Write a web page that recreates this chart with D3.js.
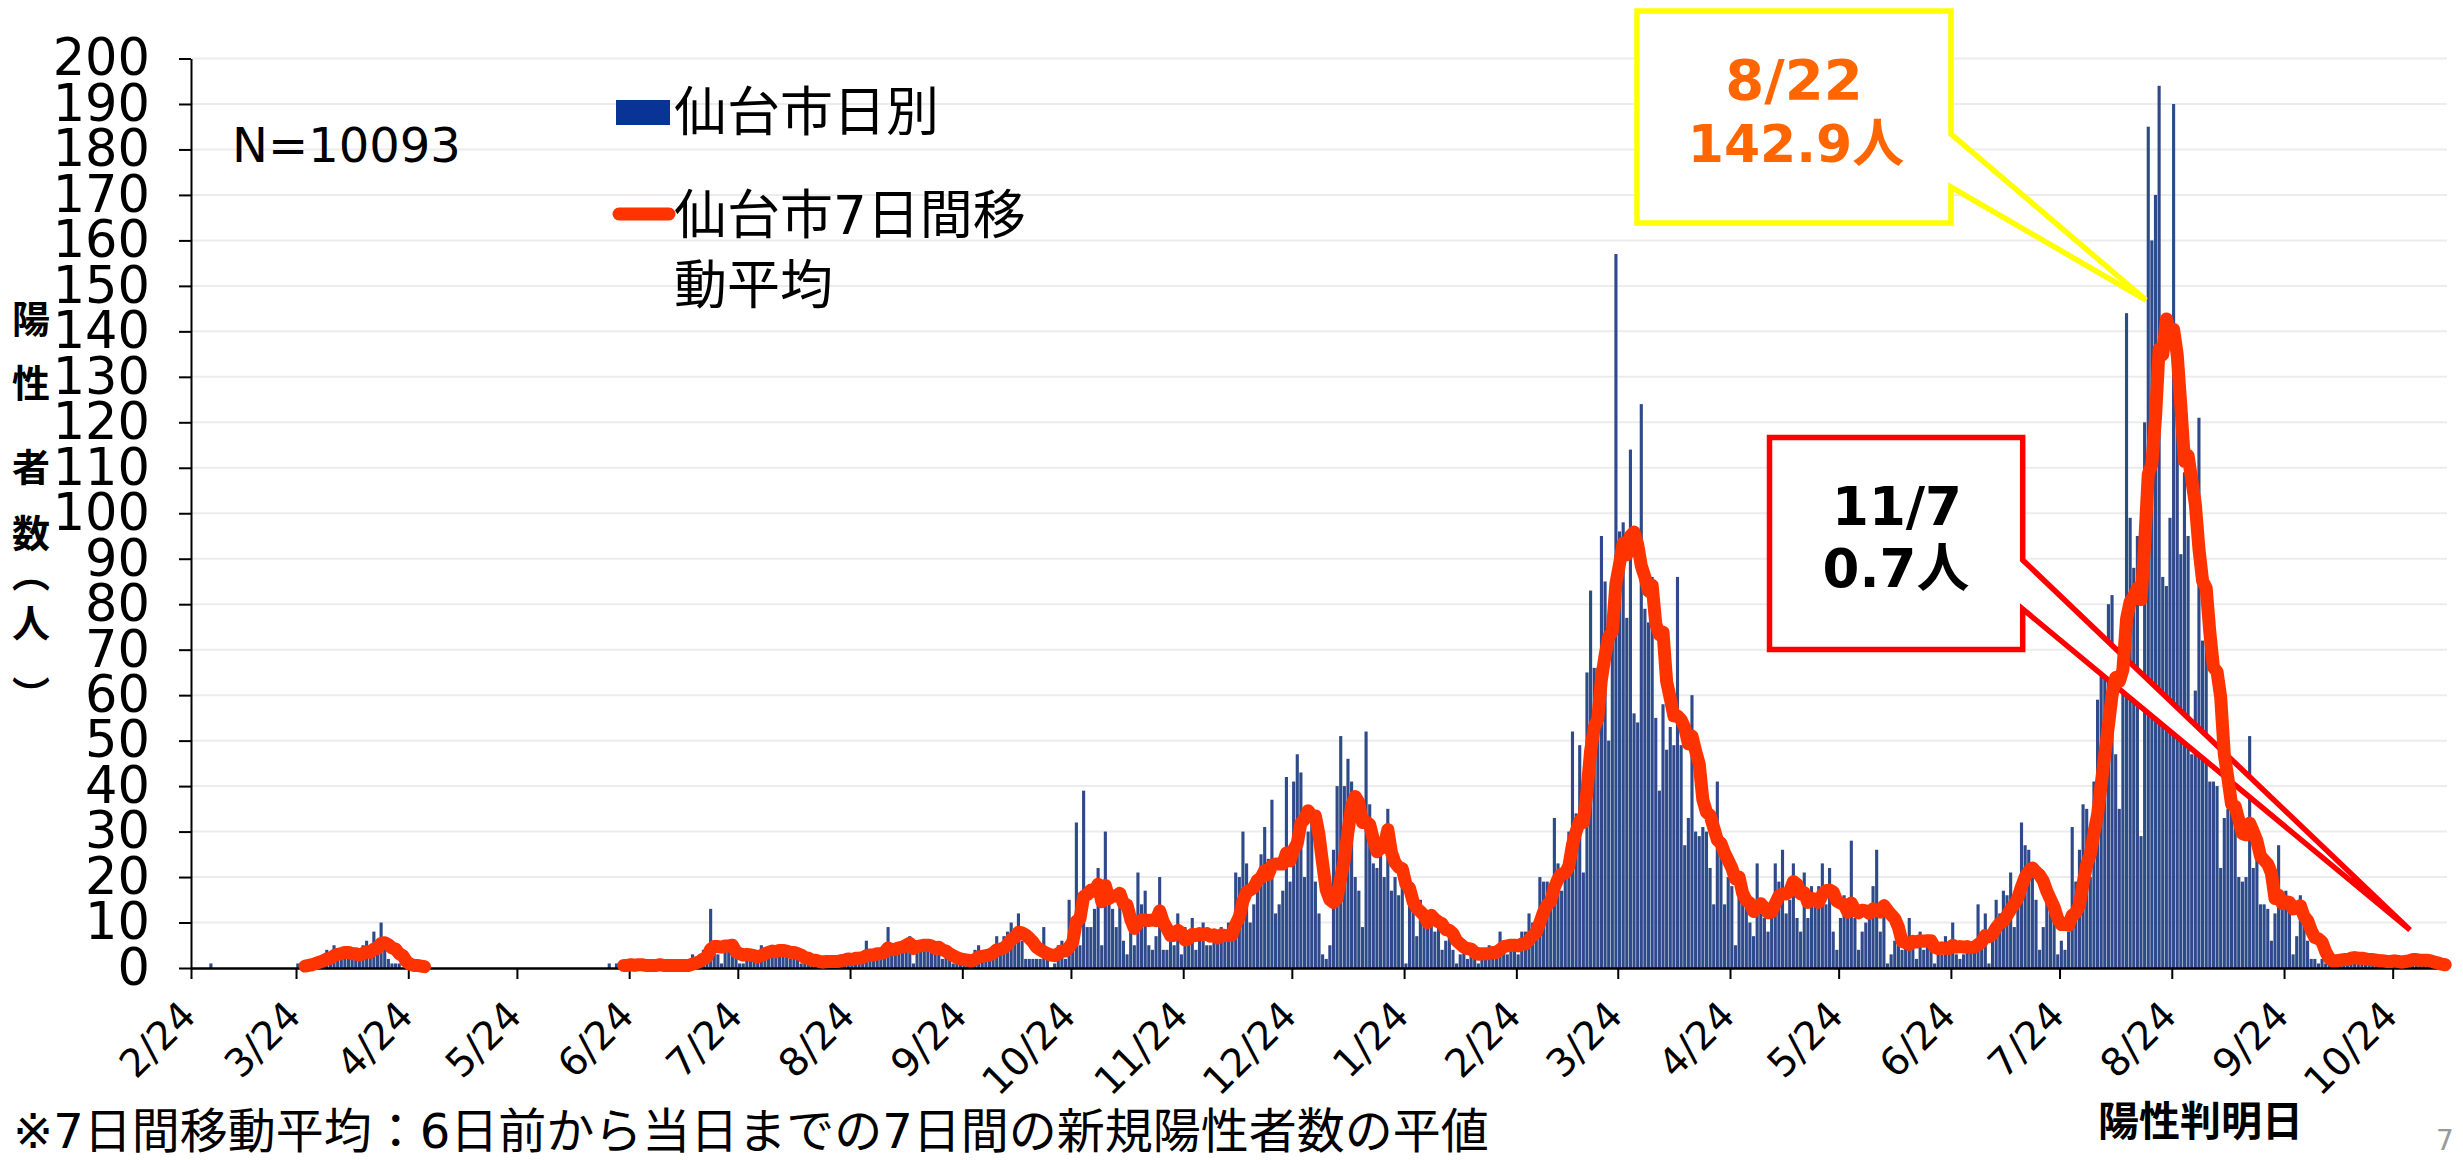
<!DOCTYPE html>
<html>
<head>
<meta charset="utf-8">
<script src="https://cdn.jsdelivr.net/npm/d3@7"></script>
<style>
  body { margin: 0; background: #fff; }
  svg { display: block; }
  text { font-family: "DejaVu Sans", "Noto Sans CJK JP", sans-serif; }
</style>
</head>
<body>
<svg id="chart"></svg>
<script>
// 仙台市 日別陽性者数 (2020/2/24 から 2021/11/7 まで、月ごと)
var startDate = "2020-02-24";
var c2002 = [0,0,0,0,0,1];
var c2003 = [0,0,0,0,0,0,0,0,0,0,0,0,0,0,0,0,0,0,0,0,0,0,0,1,1,1,1,1,2,2,3];
var c2004 = [4,2,5,3,3,4,3,2,2,3,5,6,3,8,3,10,4,2,1,1,1,0,1,0,0,1,0,0,1,0];
var c2005 = [0,0,0,0,0,0,0,0,0,0,0,0,0,0,0,0,0,0,0,0,0,0,0,0,0,0,0,0,0,0,0];
var c2006 = [0,0,0,0,0,0,0,0,0,0,0,0,0,0,0,0,0,1,0,1,1,1,0,1,0,1,1,0,1,0];
var c2007 = [1,1,0,1,0,1,0,1,1,0,3,2,3,4,4,13,4,3,1,5,4,5,3,1,1,2,4,3,3,5,4];
var c2008 = [3,4,3,5,3,4,2,3,2,1,1,2,1,2,1,1,2,1,2,1,3,2,3,1,3,2,2,6,3,3,3];
var c2009 = [3,4,9,3,4,5,4,6,7,1,6,5,6,4,5,3,3,2,3,2,1,2,1,2,1,2,4,5,3,2];
var c2010 = [3,4,7,5,7,8,10,6,12,6,2,2,2,2,2,9,3,0,1,5,6,2,15,11,32,5,39,9,9,13,22];
var c2011 = [5,30,19,13,9,17,6,3,8,5,21,14,17,5,4,7,20,4,4,6,5,12,3,9,6,11,4,8,10,5];
var c2012 = [5,8,6,9,7,10,6,21,20,30,23,10,14,17,25,31,24,37,12,14,17,42,19,41,47,43,20,30,34,19,12];
var c2101 = [3,2,5,26,40,51,40,46,41,20,17,9,52,36,23,22,25,20,35,17,20,16,20,1,14,14,7,15,10,9,12];
var c2102 = [8,10,4,6,9,4,1,3,5,2,5,4,1,2,3,5,4,5,8,6,3,4,5,3,8,8,12,10];
var c2103 = [9,20,19,19,14,33,23,17,21,30,52,34,49,21,65,83,66,66,95,85,50,73,157,96,98,77,114,56,54,124,79];
var c2104 = [76,86,55,39,58,48,53,49,86,49,27,33,60,30,29,31,30,22,14,41,25,14,20,18,5,17,16,14,10,7];
var c2105 = [23,12,11,8,15,23,19,26,12,15,23,11,8,21,11,18,14,18,23,14,22,8,4,11,16,11,28,11,4,8,10];
var c2106 = [12,18,26,8,14,1,3,6,5,4,6,11,6,2,8,4,5,6,1,4,3,7,4,10,3,2,3,4,5,5];
var c2107 = [14,7,12,1,8,15,12,17,16,21,9,18,32,27,26,21,15,4,9,16,15,14,3,6,4,8,31,19,26,36,35];
var c2108 = [20,41,59,66,72,80,82,47,35,77,144,99,88,95,29,120,185,160,170,194,86,84,99,190,121,91,109,95,47,61,121];
var c2109 = [72,80,41,41,40,22,33,35,40,38,20,19,20,51,22,26,14,14,13,6,12,27,13,17,13,3,7,16,11,6];
var c2110 = [2,2,1,2,1,1,2,2,3,2,2,3,2,1,2,2,1,2,2,1,1,1,2,2,1,1,2,2,3,2,1];
var c2111 = [1,1,1,0,2,0,0];
var caseMonths = [c2002, c2003, c2004, c2005, c2006, c2007, c2008, c2009, c2010, c2011, c2012,
                  c2101, c2102, c2103, c2104, c2105, c2106, c2107, c2108, c2109, c2110, c2111];

// 7日間移動平均を描く期間
var maSpans = [["2020-03-26", "2020-04-28"], ["2020-06-22", "2021-11-07"]];

// 軸
var tickDates = ["2020-02-24","2020-03-24","2020-04-24","2020-05-24","2020-06-24","2020-07-24",
                 "2020-08-24","2020-09-24","2020-10-24","2020-11-24","2020-12-24","2021-01-24",
                 "2021-02-24","2021-03-24","2021-04-24","2021-05-24","2021-06-24","2021-07-24",
                 "2021-08-24","2021-09-24","2021-10-24"];
var yTicks = [0,10,20,30,40,50,60,70,80,90,100,110,120,130,140,150,160,170,180,190,200];
var yTitle = ["陽", "性", "者", "数", "︵", "人", "︶"];

var parse = d3.utcParse("%Y-%m-%d");
var t0 = parse(startDate);

var daily = [];
caseMonths.forEach(function (m) {
    m.forEach(function (v) {
        daily.push({ date: d3.utcDay.offset(t0, daily.length), value: v });
    });
});

// 6日前から当日までの7日間の平均
daily.forEach(function (d, i) {
    var inSpan = maSpans.some(function (s) { return d.date >= parse(s[0]) && d.date <= parse(s[1]); });
    d.ma = (inSpan && i >= 6) ? d3.mean(daily.slice(i - 6, i + 1), function (e) { return e.value; }) : null;
});

var W = 2463, H = 1160;
var svg = d3.select("#chart").attr("width", W).attr("height", H);
svg.append("rect").attr("width", W).attr("height", H).attr("fill", "#fff");

var x = d3.scaleUtc().domain([t0, d3.utcDay.offset(t0, daily.length)]).range([191, 2447]);
var y = d3.scaleLinear().domain([0, 200]).range([968, 58.5]);
var dayW = x(d3.utcDay.offset(t0, 1)) - x(t0);

// grid
svg.append("g").selectAll("line")
    .data(yTicks.filter(function (v) { return v > 0; }))
  .enter().append("line")
    .attr("x1", 191).attr("x2", 2447)
    .attr("y1", function (v) { return y(v); }).attr("y2", function (v) { return y(v); })
    .attr("stroke", "#ececec").attr("stroke-width", 2);

// bars
svg.append("g").selectAll("rect")
    .data(daily.filter(function (d) { return d.value > 0; }))
  .enter().append("rect")
    .attr("x", function (d) { return x(d.date) + 0.25; })
    .attr("width", dayW - 0.5)
    .attr("y", function (d) { return y(d.value); })
    .attr("height", function (d) { return y(0) - y(d.value); })
    .attr("fill", "#2e4a8a");

// x axis
var xAxis = svg.append("g")
    .attr("transform", "translate(0," + y(0) + ")")
    .call(d3.axisBottom(x).tickValues(tickDates.map(parse)).tickSize(11).tickSizeOuter(0).tickFormat(""));
xAxis.select(".domain").attr("stroke", "#000").attr("stroke-width", 2.5);
xAxis.selectAll(".tick line").attr("stroke", "#000").attr("stroke-width", 2);

var fmt = d3.utcFormat("%-m/%-d");
svg.append("g").selectAll("text")
    .data(tickDates.map(parse))
  .enter().append("text")
    .attr("transform", function (d) { return "translate(" + (x(d) + 7) + ",1018) rotate(-45)"; })
    .attr("text-anchor", "end")
    .attr("font-size", 39)
    .text(function (d) { return fmt(d); });

// y axis
var yAxis = svg.append("g")
    .attr("transform", "translate(191,0)")
    .call(d3.axisLeft(y).tickValues(yTicks).tickSize(12).tickPadding(29).tickSizeOuter(0));
yAxis.attr("font-size", 51);
yAxis.select(".domain").attr("stroke", "#000").attr("stroke-width", 2);
yAxis.selectAll(".tick line").attr("stroke", "#000").attr("stroke-width", 2);
yAxis.selectAll(".tick text").attr("fill", "#000");

// y axis title
var titleY = [319, 383, 467, 533, 573, 623, 695];
svg.append("g").selectAll("text")
    .data(yTitle)
  .enter().append("text")
    .attr("x", 31)
    .attr("y", function (d, i) { return titleY[i]; })
    .attr("dy", "0.36em")
    .attr("text-anchor", "middle")
    .attr("font-size", 38)
    .attr("font-weight", "bold")
    .text(function (d) { return d; });

// callouts
svg.append("path")
    .attr("d", "M1637,11 H1951 V134 L2146,300 L1951,187 V223 H1637 Z")
    .attr("fill", "#fff").attr("stroke", "#ffff00").attr("stroke-width", 5.5);
svg.append("path")
    .attr("d", "M1769.5,437.5 H2022.7 V560 L2410,930 L2022.7,609 V649.6 H1769.5 Z")
    .attr("fill", "#fff").attr("stroke", "#ff0000").attr("stroke-width", 5.5);

// moving average line
var line = d3.line()
    .defined(function (d) { return d.ma !== null; })
    .x(function (d) { return x(d.date) + dayW / 2; })
    .y(function (d) { return y(d.ma); });
svg.append("path")
    .datum(daily)
    .attr("d", line)
    .attr("fill", "none")
    .attr("stroke", "#ff3300")
    .attr("stroke-width", 13)
    .attr("stroke-linejoin", "round")
    .attr("stroke-linecap", "round");

// callout texts
svg.append("text").attr("x", 1794).attr("y", 79).attr("dy", "0.36em")
    .attr("text-anchor", "middle").attr("font-size", 56).attr("font-weight", "bold")
    .attr("fill", "#ff6600").text("8/22");
svg.append("text").attr("x", 1796).attr("y", 143).attr("dy", "0.36em")
    .attr("text-anchor", "middle").attr("font-size", 52).attr("font-weight", "bold")
    .attr("fill", "#ff6600").text("142.9人");
svg.append("text").attr("x", 1897).attr("y", 506).attr("dy", "0.36em")
    .attr("text-anchor", "middle").attr("font-size", 53).attr("font-weight", "bold")
    .attr("fill", "#000").text("11/7");
svg.append("text").attr("x", 1896).attr("y", 568).attr("dy", "0.36em")
    .attr("text-anchor", "middle").attr("font-size", 53).attr("font-weight", "bold")
    .attr("fill", "#000").text("0.7人");

// legend
var legend = svg.append("g").attr("id", "legend");
legend.append("rect").attr("x", 616).attr("y", 100).attr("width", 54).attr("height", 25).attr("fill", "#0a3396");
legend.append("text").attr("x", 674).attr("y", 112).attr("dy", "0.36em").attr("font-size", 53).text("仙台市日別");
legend.append("line").attr("x1", 619).attr("x2", 669).attr("y1", 214).attr("y2", 214)
    .attr("stroke", "#ff3300").attr("stroke-width", 13).attr("stroke-linecap", "round");
legend.append("text").attr("x", 674).attr("y", 215).attr("dy", "0.36em").attr("font-size", 53).text("仙台市7日間移");
legend.append("text").attr("x", 674).attr("y", 285).attr("dy", "0.36em").attr("font-size", 53).text("動平均");

svg.append("text").attr("x", 232).attr("y", 145).attr("dy", "0.36em").attr("font-size", 48).text("N=10093");

// footnote etc.
svg.append("text").attr("x", 13).attr("y", 1131).attr("dy", "0.36em").attr("font-size", 48)
    .text("※7日間移動平均：6日前から当日までの7日間の新規陽性者数の平値");
svg.append("text").attr("x", 2098).attr("y", 1121).attr("dy", "0.36em").attr("font-size", 41)
    .attr("font-weight", "bold").text("陽性判明日");
svg.append("text").attr("x", 2436).attr("y", 1150).attr("font-size", 28).attr("fill", "#999").text("7");
</script>
</body>
</html>
